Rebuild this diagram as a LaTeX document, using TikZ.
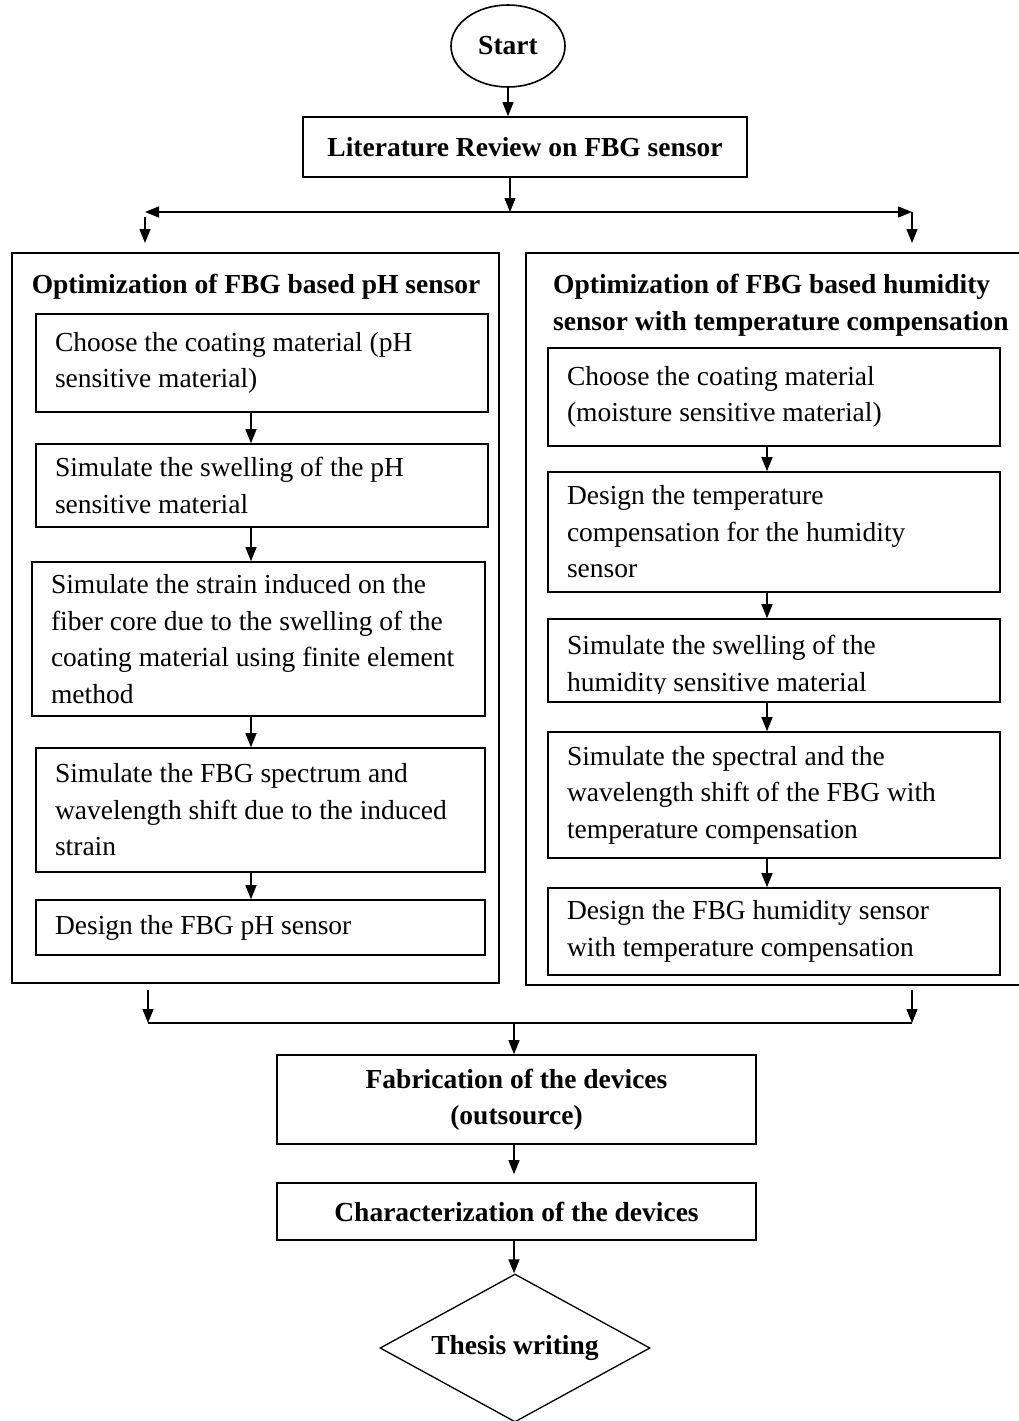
\documentclass[tikz,border=0pt]{standalone}
\usepackage{fontspec}
\setmainfont{Liberation Serif}
\usetikzlibrary{shapes.geometric,arrows.meta}
\begin{document}
\begin{tikzpicture}[x=1pt,y=-1pt,
  every node/.style={font=\fontsize{27.5}{36.5}\selectfont},
  bold/.style={font=\fontsize{27.5}{36.5}\selectfont\bfseries},
  stepbox/.style={draw, line width=1.6pt, inner xsep=19pt, inner ysep=0pt, align=flush left},
  bigbox/.style={draw, line width=1.6pt, inner sep=0pt},
  cbox/.style={draw, line width=1.6pt, inner sep=0pt, align=center, bold},
  txt/.style={inner sep=0pt, align=left},
  arr/.style={-{Triangle[length=14pt,width=11pt]}, line width=1.3pt},
  lin/.style={line width=1.3pt}
]
\useasboundingbox (0,0) rectangle (1018,1421);

% top
\node[ellipse, draw, line width=1.6pt, minimum width=114pt, minimum height=82pt, inner sep=0pt, bold] (start) at (508,46) {Start};
\node[cbox, minimum width=444pt, minimum height=60pt] (lit) at (525,147) {Literature Review on FBG sensor};

\coordinate (sm) at (510,212);
\coordinate (sl) at (145,212);
\coordinate (sr) at (912,212);
\coordinate (dl1) at (145,217);
\coordinate (dl2) at (145,243);
\coordinate (dr2) at (912,243);

\draw[arr] (start.south) -- (start.south |- lit.north);
\draw[arr] (lit.south -| sm) -- (sm);
\draw[lin, {Triangle[length=14pt,width=11pt]}-{Triangle[length=14pt,width=11pt]}] (sl) -- (sr);
\draw[arr] (dl1) -- (dl2);
\draw[arr] (sr) -- (dr2);

% big boxes
\node[bigbox, minimum width=487pt, minimum height=730pt] (LB) at (255.5,618) {};
\node[bigbox, minimum width=500pt, minimum height=732pt] (RB) at (776,619) {};

\node[bold, anchor=base] (lt) at (256,293) {Optimization of FBG based pH sensor};
\node[txt, bold, anchor=north west] (rt) at (553,274) {Optimization of FBG based humidity\\sensor with temperature compensation};

% left column
\node[stepbox, text width=414pt, minimum height=98pt] (L1) at (262,363) {Choose the coating material (pH\\sensitive material)};
\node[stepbox, text width=414pt, minimum height=83pt] (L2) at (262,485.5) {Simulate the swelling of the pH\\sensitive material};
\node[stepbox, text width=415pt, minimum height=154pt] (L3) at (258.5,639) {Simulate the strain induced on the\\fiber core due to the swelling of the\\coating material using finite element\\method};
\node[stepbox, text width=411pt, minimum height=124pt] (L4) at (260.5,810) {Simulate the FBG spectrum and\\wavelength shift due to the induced\\strain};
\node[stepbox, text width=411pt, minimum height=55pt] (L5) at (260.5,927.5) {Design the FBG pH sensor};

\coordinate (lx) at (251,0);
\draw[arr] (L1.south -| lx) -- (L2.north -| lx);
\draw[arr] (L2.south -| lx) -- (L3.north -| lx);
\draw[arr] (L3.south -| lx) -- (L4.north -| lx);
\draw[arr] (L4.south -| lx) -- (L5.north -| lx);

% right column
\node[stepbox, text width=414pt, minimum height=98pt] (R1) at (774,397) {Choose the coating material\\(moisture sensitive material)};
\node[stepbox, text width=414pt, minimum height=120pt] (R2) at (774,532) {Design the temperature\\compensation for the humidity\\sensor};
\node[stepbox, minimum width=452pt, minimum height=83pt] (R3) at (774,660.5) {};
\begin{scope}
  \clip (548,619) rectangle (1000,693);
  \node[txt, anchor=north west] (R3t) at (567,635.2) {Simulate the swelling of the\\humidity sensitive material};
\end{scope}
\node[stepbox, text width=414pt, minimum height=126pt] (R4) at (774,795) {Simulate the spectral and the\\wavelength shift of the FBG with\\temperature compensation};
\node[stepbox, text width=414pt, minimum height=87pt] (R5) at (774,931.5) {Design the FBG humidity sensor\\with temperature compensation};

\coordinate (rx) at (767,0);
\draw[arr] (R1.south -| rx) -- (R2.north -| rx);
\draw[arr] (R2.south -| rx) -- (R3.north -| rx);
\draw[arr] (R3.south -| rx) -- (R4.north -| rx);
\draw[arr] (R4.south -| rx) -- (R5.north -| rx);

% bottom merge
\coordinate (bl1) at (148,990);
\coordinate (bl2) at (148,1023);
\coordinate (br1) at (912,990);
\coordinate (br2) at (912,1023);
\coordinate (bm) at (514,1023);
\draw[arr] (bl1) -- (bl2);
\draw[arr] (br1) -- (br2);
\draw[lin] (bl2) -- (br2);

\node[cbox, minimum width=479pt, minimum height=89pt] (fab) at (516.5,1099.5) {Fabrication of the devices\\(outsource)};
\node[cbox, minimum width=479pt, minimum height=57pt] (char) at (516.5,1211.5) {Characterization of the devices};
\node[diamond, draw, line width=1.3pt, minimum width=270pt, minimum height=148pt, inner sep=0pt, aspect=1.82, bold] (thesis) at (515,1348) {Thesis writing};

\draw[arr] (bm) -- (bm |- fab.north);
\draw[arr, shorten >=8pt] (fab.south -| bm) -- (char.north -| bm);
\draw[arr] (char.south -| bm) -- (thesis.north -| bm);
\end{tikzpicture}
\end{document}
